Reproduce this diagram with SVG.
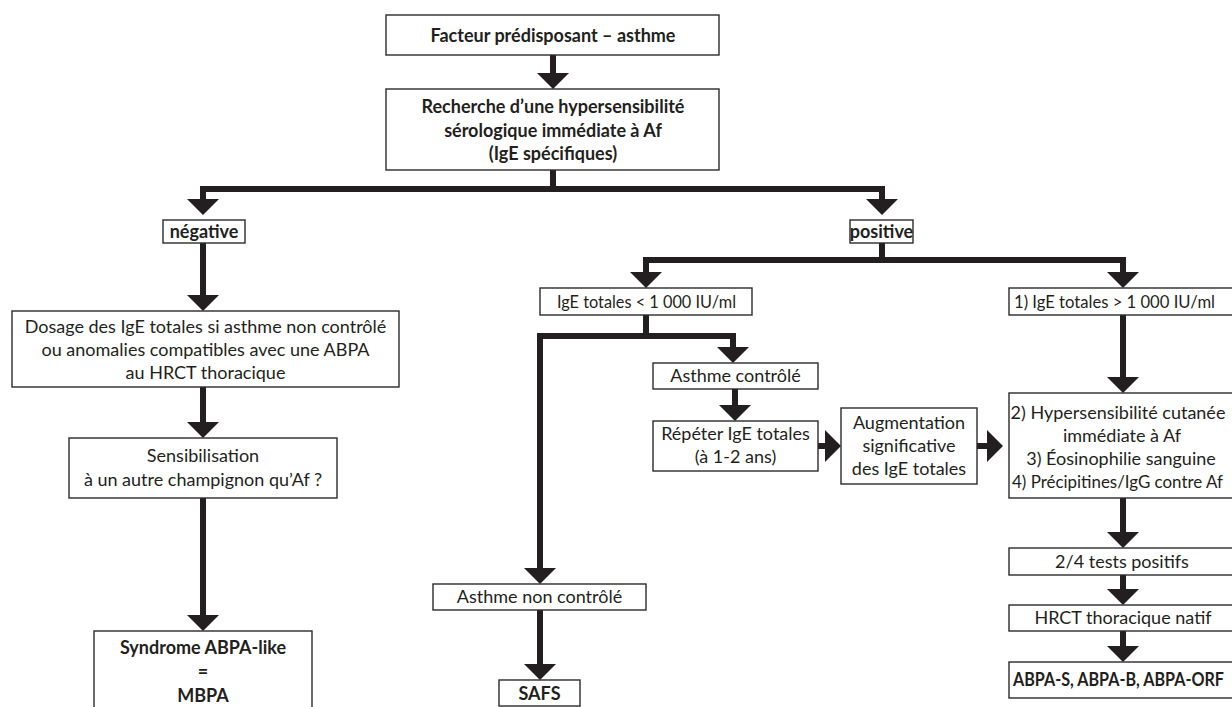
<svg xmlns="http://www.w3.org/2000/svg" width="1232" height="707" viewBox="0 0 1232 707">
<defs>
<marker id="ah" viewBox="0 -16 16 32" markerWidth="16" markerHeight="32" refX="0" refY="0" orient="auto" markerUnits="userSpaceOnUse">
<path d="M0,-16 L16,0 L0,16 Z" fill="#231f20"/>
</marker>
<style>
.box{fill:#fff;stroke:#2b2b2b;stroke-width:1.4}
.t{font-family:Lato,"Liberation Sans",sans-serif;font-size:18px;fill:#231f20;text-anchor:middle}
.b{font-weight:bold}
.s{text-anchor:start}
.c{fill:none;stroke:#231f20;stroke-width:6;stroke-linejoin:miter}
.a{marker-end:url(#ah)}
</style>
</defs>
<rect width="1232" height="707" fill="#fff"/>
<g id="connectors">
<path class="c a" d="M553,55 V73"/>
<path class="c" d="M553,170 V189"/>
<path class="c a" d="M553,189 H203 V199"/>
<path class="c a" d="M553,189 H882 V199"/>
<path class="c a" d="M203,243 V295"/>
<path class="c a" d="M203,387 V422"/>
<path class="c a" d="M203,498 V615"/>
<path class="c" d="M882,243 V260"/>
<path class="c a" d="M882,260 H646 V272"/>
<path class="c a" d="M882,260 H1123 V272"/>
<path class="c" d="M646,315 V336"/>
<path class="c a" d="M646,336 H540 V568"/>
<path class="c a" d="M646,336 H733 V347"/>
<path class="c a" d="M540,610 V664"/>
<path class="c a" d="M735,389 V405"/>
<path class="c a" d="M818,446 H825"/>
<path class="c a" d="M977,446 H987"/>
<path class="c a" d="M1123,315 V377"/>
<path class="c a" d="M1123,498 V532"/>
<path class="c a" d="M1123,575 V589"/>
<path class="c a" d="M1123,631 V646"/>
</g>
<g id="n-facteur">
<rect class="box" x="386" y="15" width="333" height="40"/>
<text class="t b" x="553" y="42">Facteur prédisposant – asthme</text>
</g>
<g id="n-recherche">
<rect class="box" x="386" y="89" width="333" height="81"/>
<text class="t b" x="553" y="113">Recherche d’une hypersensibilité</text>
<text class="t b" x="553" y="137">sérologique immédiate à Af</text>
<text class="t b" x="553" y="160">(IgE spécifiques)</text>
</g>
<g id="n-negative">
<rect class="box" x="163" y="220" width="82" height="23"/>
<text class="t b" x="204" y="238">négative</text>
</g>
<g id="n-positive">
<rect class="box" x="850" y="220" width="63" height="23"/>
<text class="t b" x="881.5" y="238">positive</text>
</g>
<g id="n-dosage">
<rect class="box" x="12" y="311" width="387" height="76"/>
<text class="t" x="205.5" y="333">Dosage des IgE totales si asthme non contrôlé</text>
<text class="t" x="205.5" y="356">ou anomalies compatibles avec une ABPA</text>
<text class="t" x="205.5" y="379">au HRCT thoracique</text>
</g>
<g id="n-sensibilisation">
<rect class="box" x="69" y="438" width="268" height="60"/>
<text class="t" x="203" y="462">Sensibilisation</text>
<text class="t" x="203" y="486">à un autre champignon qu’Af ?</text>
</g>
<g id="n-syndrome">
<rect class="box" x="94" y="631" width="218" height="90"/>
<text class="t b" x="203" y="654">Syndrome ABPA-like</text>
<text class="t b" x="203" y="678">=</text>
<text class="t b" x="203" y="702">MBPA</text>
</g>
<g id="n-ige-inf">
<rect class="box" x="540" y="288" width="212" height="27"/>
<text class="t s" x="557" y="308" textLength="179" lengthAdjust="spacingAndGlyphs">IgE totales &lt; 1 000 IU/ml</text>
</g>
<g id="n-ige-sup">
<rect class="box" x="1009" y="288" width="240" height="27"/>
<text class="t s" x="1014" y="308" textLength="201" lengthAdjust="spacingAndGlyphs">1) IgE totales &gt; 1 000 IU/ml</text>
</g>
<g id="n-controle">
<rect class="box" x="653" y="363" width="165" height="26"/>
<text class="t" x="735.5" y="382">Asthme contrôlé</text>
</g>
<g id="n-repeter">
<rect class="box" x="653" y="421" width="165" height="50"/>
<text class="t" x="735.5" y="440">Répéter IgE totales</text>
<text class="t" x="735.5" y="463">(à 1-2 ans)</text>
</g>
<g id="n-non-controle">
<rect class="box" x="433" y="584" width="213" height="26"/>
<text class="t" x="539.5" y="603">Asthme non contrôlé</text>
</g>
<g id="n-safs">
<rect class="box" x="499" y="680" width="81" height="26"/>
<text class="t b" x="539.5" y="700">SAFS</text>
</g>
<g id="n-augmentation">
<rect class="box" x="841" y="408" width="136" height="76"/>
<text class="t" x="909" y="429">Augmentation</text>
<text class="t" x="909" y="452">significative</text>
<text class="t" x="909" y="475">des IgE totales</text>
</g>
<g id="n-criteres">
<rect class="box" x="1009" y="393" width="240" height="105"/>
<text class="t" x="1118" y="419">2) Hypersensibilité cutanée</text>
<text class="t" x="1122" y="442">immédiate à Af</text>
<text class="t" x="1121" y="465">3) Éosinophilie sanguine</text>
<text class="t s" x="1012" y="488" textLength="211" lengthAdjust="spacingAndGlyphs">4) Précipitines/IgG contre Af</text>
</g>
<g id="n-2sur4">
<rect class="box" x="1009" y="548" width="240" height="27"/>
<text class="t" x="1122" y="568">2/4 tests positifs</text>
</g>
<g id="n-hrct">
<rect class="box" x="1009" y="605" width="240" height="26"/>
<text class="t" x="1123" y="624">HRCT thoracique natif</text>
</g>
<g id="n-abpa">
<rect class="box" x="1009" y="662" width="240" height="36"/>
<text class="t b s" x="1013" y="686" textLength="211" lengthAdjust="spacingAndGlyphs">ABPA-S, ABPA-B, ABPA-ORF</text>
</g>
</svg>
